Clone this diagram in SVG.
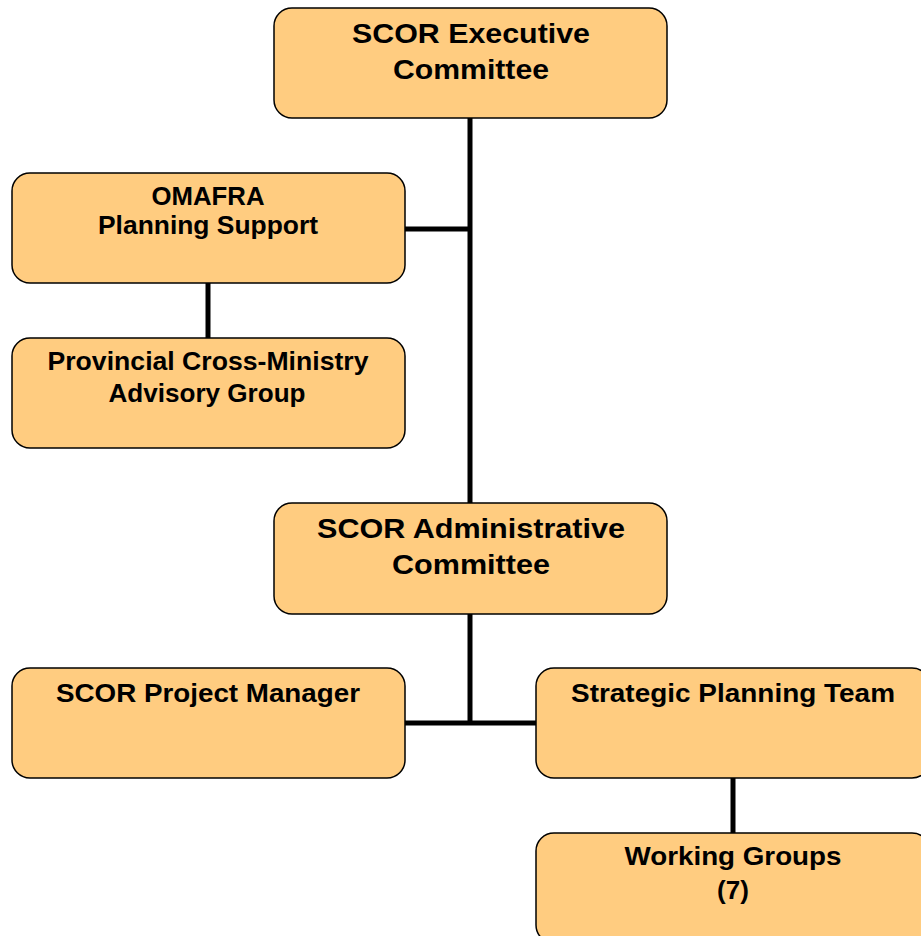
<svg xmlns="http://www.w3.org/2000/svg" width="921" height="936" viewBox="0 0 921 936">
  <style>
    .box { fill: #FFCC80; stroke: #000; stroke-width: 1.5; }
    .lbl { font-family: "Liberation Sans", Arial, sans-serif; font-weight: bold; fill: #000; text-anchor: middle; }
    .big { font-size: 28px; }
    .mid { font-size: 26px; }
    .wire { stroke: #000; stroke-width: 5; fill: none; }
  </style>
  <rect width="921" height="936" fill="#fff"/>

  <!-- connectors -->
  <g id="connectors">
    <line class="wire" x1="470" y1="118" x2="470" y2="503"/>
    <line class="wire" x1="405" y1="229" x2="470" y2="229"/>
    <line class="wire" x1="208" y1="283" x2="208" y2="338"/>
    <line class="wire" x1="470" y1="614" x2="470" y2="723"/>
    <line class="wire" x1="405" y1="723" x2="536" y2="723"/>
    <line class="wire" x1="733" y1="778" x2="733" y2="833"/>
  </g>

  <g id="executive">
    <rect class="box" x="274" y="8" width="393" height="110" rx="18"/>
    <text class="lbl big" x="471" y="43" textLength="238" lengthAdjust="spacingAndGlyphs">SCOR Executive</text>
    <text class="lbl big" x="471" y="79" textLength="156" lengthAdjust="spacingAndGlyphs">Committee</text>
  </g>

  <g id="omafra">
    <rect class="box" x="12" y="173" width="393" height="110" rx="18"/>
    <text class="lbl mid" x="208" y="205" textLength="113" lengthAdjust="spacingAndGlyphs">OMAFRA</text>
    <text class="lbl mid" x="208" y="234" textLength="220" lengthAdjust="spacingAndGlyphs">Planning Support</text>
  </g>

  <g id="advisory">
    <rect class="box" x="12" y="338" width="393" height="110" rx="18"/>
    <text class="lbl mid" x="208" y="370" textLength="321" lengthAdjust="spacingAndGlyphs">Provincial Cross-Ministry</text>
    <text class="lbl mid" x="207" y="402" textLength="197" lengthAdjust="spacingAndGlyphs">Advisory Group</text>
  </g>

  <g id="administrative">
    <rect class="box" x="274" y="503" width="393" height="111" rx="18"/>
    <text class="lbl big" x="471" y="538" textLength="308" lengthAdjust="spacingAndGlyphs">SCOR Administrative</text>
    <text class="lbl big" x="471" y="574" textLength="158" lengthAdjust="spacingAndGlyphs">Committee</text>
  </g>

  <g id="project-manager">
    <rect class="box" x="12" y="668" width="393" height="110" rx="18"/>
    <text class="lbl mid" x="208" y="702" textLength="304" lengthAdjust="spacingAndGlyphs">SCOR Project Manager</text>
  </g>

  <g id="strategic-planning">
    <rect class="box" x="536" y="668" width="394" height="110" rx="18"/>
    <text class="lbl mid" x="733" y="702" textLength="324" lengthAdjust="spacingAndGlyphs">Strategic Planning Team</text>
  </g>

  <g id="working-groups">
    <rect class="box" x="536" y="833" width="394" height="110" rx="18"/>
    <text class="lbl mid" x="733" y="865" textLength="217" lengthAdjust="spacingAndGlyphs">Working Groups</text>
    <text class="lbl mid" x="733" y="899">(7)</text>
  </g>
</svg>
